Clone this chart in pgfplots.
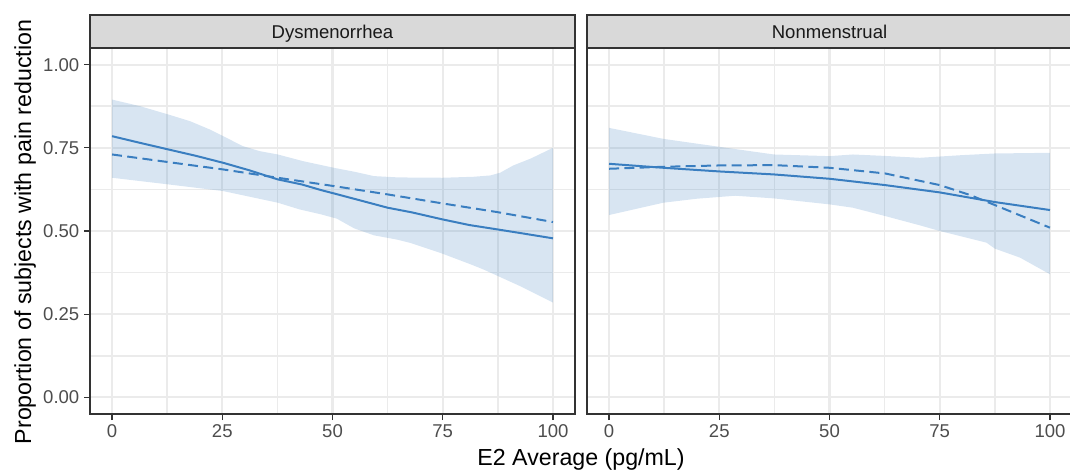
\documentclass[border=0pt]{standalone}
\usepackage{pgfplots}
\usepackage{pgfplotstable}
\pgfplotsset{compat=1.18}
\usepgfplotslibrary{fillbetween}
\usepackage{fontspec}
\setmainfont{Liberation Sans}
\definecolor{fitblue}{HTML}{3A7EC0}
\definecolor{gridgray}{HTML}{EBEBEB}
\definecolor{bordergray}{HTML}{333333}
\definecolor{stripgray}{HTML}{D9D9D9}
\definecolor{ticklabgray}{HTML}{4D4D4D}

% Dysmenorrhea
\pgfplotstableread{
x y
0 0.785
6 0.766
12.8 0.745
19 0.726
25.2 0.705
31 0.683
37.6 0.655
43 0.640
47.4 0.623
50.3 0.613
56 0.593
62.5 0.570
68 0.556
74.9 0.535
81 0.518
87.3 0.505
93 0.493
100 0.478
}\lsolid
\pgfplotstableread{
x y
0 0.730
12.8 0.707
25.2 0.685
37.6 0.660
50.3 0.635
62.5 0.610
74.9 0.583
87.3 0.557
100 0.527
}\ldash
\pgfplotstableread{
x y
0 0.895
6.4 0.875
12.8 0.850
17.7 0.830
22.2 0.805
25.2 0.785
29.7 0.755
33.5 0.740
37.6 0.730
43.3 0.710
50.3 0.690
55 0.678
59.4 0.665
65 0.661
75 0.660
82 0.663
85.8 0.667
88 0.675
91 0.697
95 0.718
100 0.750
}\lupper
\pgfplotstableread{
x y
0 0.660
12.8 0.640
25.2 0.620
37.6 0.585
42.5 0.565
47.4 0.550
51 0.537
54.9 0.508
59.4 0.487
64.7 0.474
67.7 0.464
74.5 0.434
81.3 0.400
84.3 0.384
92.6 0.334
100 0.285
}\llower

% Nonmenstrual
\pgfplotstableread{
x y
0 0.702
12.3 0.690
25 0.679
37.4 0.670
50 0.657
62.6 0.638
75 0.616
87.5 0.587
100 0.563
}\rsolid
\pgfplotstableread{
x y
0 0.687
12.3 0.693
25 0.697
37.4 0.698
50 0.690
62.6 0.673
75 0.638
81.9 0.608
87.5 0.578
100 0.510
}\rdash
\pgfplotstableread{
x y
0 0.810
12.3 0.777
25 0.753
37.4 0.730
50 0.725
55.3 0.730
62 0.726
70.5 0.720
80 0.728
87.5 0.733
100 0.735
}\rupper
\pgfplotstableread{
x y
0 0.548
12.3 0.585
19.9 0.597
28.6 0.606
37.4 0.598
50 0.580
55.3 0.570
62.6 0.545
70.5 0.517
75 0.500
85.6 0.465
87.5 0.447
93.2 0.420
100 0.370
}\rlower

\pgfplotsset{
  panel/.style={
    scale only axis,
    width=363.75pt, height=274.5pt,
    anchor=south west,
    xmin=-5, xmax=105, ymin=-0.05, ymax=1.05,
    xtick={0,25,50,75,100},
    minor xtick={12.5,37.5,62.5,87.5},
    ytick={0,0.25,0.5,0.75,1},
    minor ytick={0.125,0.375,0.625,0.875},
    grid=both,
    major grid style={draw=gridgray, line width=1.6pt},
    minor grid style={draw=gridgray, line width=1.2pt},
    axis line style={draw=bordergray, line width=1pt},
    tick align=outside,
    tick pos=left,
    major tick length=4.5pt,
    minor tick length=0pt,
    tick style={draw=bordergray, line width=1pt},
    /pgf/number format/assume math mode=true,
    tick label style={font=\fontsize{13.9}{16}\selectfont, text=ticklabgray},
  },
  band/.style={draw=none, fill=fitblue, fill opacity=0.2},
  fitline/.style={draw=fitblue, line width=1.5pt, no marks},
  fitdash/.style={draw=fitblue, line width=1.5pt, no marks, dash pattern=on 7.5pt off 4pt},
}

\begin{document}
\begin{tikzpicture}

\begin{axis}[panel, at={(67.5pt,41.25pt)},
  yticklabels={0.00,0.25,0.50,0.75,1.00}]
  \addplot[draw=none, name path=lu, forget plot] table[x=x,y=y] {\lupper};
  \addplot[draw=none, name path=ll, forget plot] table[x=x,y=y] {\llower};
  \addplot[band] fill between[of=lu and ll];
  \addplot[fitline] table[x=x,y=y] {\lsolid};
  \addplot[fitdash] table[x=x,y=y] {\ldash};
\end{axis}

\begin{axis}[panel, at={(440.25pt,41.25pt)},
  yticklabels={}, ytick style={draw=none}]
  \addplot[draw=none, name path=ru, forget plot] table[x=x,y=y] {\rupper};
  \addplot[draw=none, name path=rl, forget plot] table[x=x,y=y] {\rlower};
  \addplot[band] fill between[of=ru and rl];
  \addplot[fitline] table[x=x,y=y] {\rsolid};
  \addplot[fitdash] table[x=x,y=y] {\rdash};
\end{axis}

% facet strips
\draw[fill=stripgray, draw=bordergray, line width=1pt] (67.5pt,315.75pt) rectangle (431.25pt,340.5pt);
\draw[fill=stripgray, draw=bordergray, line width=1pt] (440.25pt,315.75pt) rectangle (804pt,340.5pt);
\node[anchor=base, inner sep=0pt, text=black!90] at (249.375pt,323pt) {\fontsize{13.9}{16}\selectfont Dysmenorrhea};
\node[anchor=base, inner sep=0pt, text=black!90] at (622.125pt,323pt) {\fontsize{13.9}{16}\selectfont Nonmenstrual};

% axis titles
\node[anchor=base, inner sep=0pt] at (435.75pt,2.5pt) {\fontsize{17.4}{20}\selectfont E2 Average (pg/mL)};
\node[anchor=base, inner sep=0pt, rotate=90] at (23.25pt,177.75pt) {\fontsize{17.4}{20}\selectfont Proportion of subjects with pain reduction};

\pgfresetboundingbox
\path[use as bounding box] (0,0) rectangle (802.5pt,351.75pt);
\end{tikzpicture}
\end{document}
